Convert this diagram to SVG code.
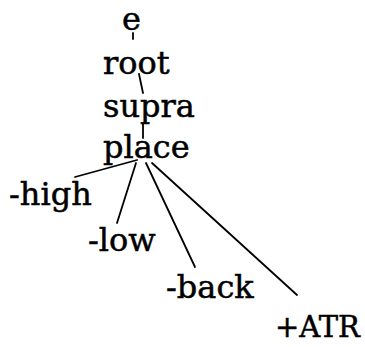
<svg xmlns="http://www.w3.org/2000/svg" width="365" height="347" viewBox="0 0 365 347">
<style>
text{font-family:"DejaVu Serif","Liberation Serif",serif;font-size:32px;fill:#000;stroke:#000;stroke-width:0.5}
.c line{stroke:#000;stroke-width:1.8;stroke-linecap:round}
</style>
<rect width="365" height="347" fill="#fff"/>
<g class="c">
<line x1="133" y1="33" x2="133" y2="39"/>
<line x1="139" y1="74" x2="143" y2="93"/>
<line x1="143" y1="124" x2="143" y2="138"/>
<line x1="75" y1="177" x2="137" y2="160"/>
<line x1="117" y1="223" x2="136" y2="163"/>
<line x1="195" y1="267" x2="146" y2="163"/>
<line x1="297" y1="295" x2="152" y2="163"/>
</g>
<g id="e"><text x="122" y="30">e</text></g>
<g id="root"><text x="103" y="74">root</text></g>
<g id="supra"><text x="103" y="117">supra</text></g>
<g id="place"><text x="103" y="158">place</text></g>
<g id="high"><text x="9" y="205">-high</text></g>
<g id="low"><text x="88" y="251">-low</text></g>
<g id="back"><text x="166" y="298">-back</text></g>
<g id="atr"><text x="275" y="337" style="font-size:29px">+ATR</text></g>
</svg>
